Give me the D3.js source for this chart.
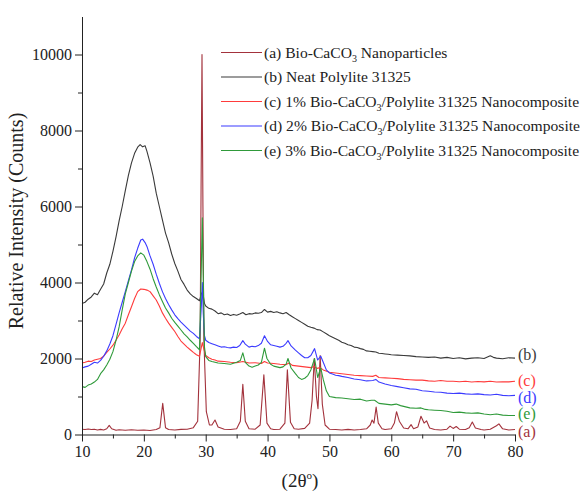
<!DOCTYPE html>
<html>
<head>
<meta charset="utf-8">
<script src="https://cdn.jsdelivr.net/npm/d3@7"></script>
<style>
body { margin: 0; background: #fff; }
svg text { font-family: "Liberation Serif", "Times New Roman", serif !important; }
</style>
</head>
<body>
<svg id="chart" width="587" height="492"></svg>
<script>
// XRD patterns, [2theta, counts]
const bioCaCO3 = [
  [10,140],[10.5,130],[11,145],[11.5,130],[12,140],[12.5,120],[13,135],[13.5,120],[14,150],[14.4,240],[14.8,150],
  [15.5,110],[16,125],[17,110],[18,125],[19,110],[20,120],[21,105],[22,130],[22.6,180],[23.05,820],[23.5,180],
  [24,130],[25,120],[26,135],[27,140],[28,180],[28.7,350],[29.1,2500],[29.25,6500],[29.4,10000],[29.55,6000],
  [29.7,2500],[30.1,600],[30.6,250],[31,250],[31.5,380],[32,200],[33,140],[34,130],[35,150],[35.6,350],
  [36.0,1320],[36.4,350],[37,150],[38,140],[38.8,250],[39.4,1570],[39.9,300],[40.5,150],[41,130],[42,140],
  [42.8,300],[43.2,1700],[43.7,320],[44.3,150],[45,140],[46,160],[46.8,300],[47.2,900],[47.55,2000],[47.9,1000],
  [48.15,680],[48.5,2080],[48.85,800],[49.3,250],[50,140],[51,130],[52,120],[53,135],[54,120],[55,130],[56,150],
  [56.6,250],[56.9,380],[57.2,300],[57.55,720],[57.9,300],[58.5,150],[59,130],[60,150],[60.5,300],[60.85,600],
  [61.3,350],[62,170],[62.7,150],[63.2,260],[63.6,150],[64.3,200],[64.8,480],[65.3,300],[65.7,360],[66.2,170],
  [67,130],[68,120],[69,140],[69.5,220],[70,160],[70.5,210],[71,140],[72,130],[72.6,180],[73.1,330],[73.6,170],
  [74.5,130],[75,120],[76,140],[77,230],[77.4,280],[78,150],[79,120],[80,130]
];

const neatPolylite = [
  [10,3450],[10.5,3480],[11,3560],[11.5,3620],[12,3720],[12.5,3680],[13,3820],[13.5,3960],[14,4250],[14.5,4480],
  [15,4820],[15.5,5200],[16,5620],[16.5,6000],[17,6420],[17.5,6820],[18,7150],[18.5,7400],[19,7560],[19.4,7630],
  [19.8,7570],[20.2,7600],[20.5,7450],[21,7150],[21.5,6800],[22,6350],[22.5,6000],[23,5650],[23.5,5300],[24,5050],
  [24.5,4750],[25,4500],[25.5,4300],[26,4080],[26.5,3950],[27,3800],[27.5,3700],[28,3630],[28.5,3580],[29,3520],
  [29.3,3700],[29.5,3760],[29.8,3450],[30,3380],[30.5,3320],[31,3300],[31.5,3250],[32,3180],[32.5,3200],[33,3150],
  [33.5,3170],[34,3130],[34.5,3160],[35,3140],[35.5,3170],[36,3210],[36.5,3150],[37,3180],[37.5,3170],[38,3200],
  [38.5,3190],[39,3210],[39.5,3290],[40,3220],[40.5,3240],[41,3210],[41.5,3230],[42,3200],[42.5,3180],[43,3210],
  [43.5,3150],[44,3100],[44.5,3050],[45,3000],[45.5,2950],[46,2900],[46.5,2850],[47,2820],[47.5,2800],[48,2760],
  [48.5,2750],[49,2700],[49.5,2650],[50,2600],[50.5,2560],[51,2520],[51.5,2480],[52,2430],[52.5,2400],[53,2360],
  [53.5,2340],[54,2300],[54.5,2290],[55,2260],[55.5,2240],[56,2200],[56.5,2190],[57,2180],[57.5,2170],[58,2140],
  [58.5,2130],[59,2120],[59.5,2110],[60,2100],[61,2090],[62,2080],[63,2070],[64,2050],[65,2040],[66,2030],
  [67,2040],[68,2010],[69,2030],[70,2000],[71,2020],[72,1990],[73,2010],[74,2020],[75,2000],[76,2070],[76.5,2030],
  [77,2010],[78,1995],[79,2020],[80,2010]
];

const nano1 = [
  [10,1880],[10.5,1900],[11,1930],[11.5,1920],[12,1960],[12.5,1980],[13,2000],[13.5,2060],[14,2160],[14.5,2250],
  [15,2350],[15.5,2480],[16,2620],[16.5,2780],[17,2930],[17.5,3150],[18,3360],[18.5,3580],[19,3760],[19.5,3830],
  [20,3820],[20.5,3800],[21,3760],[21.5,3650],[22,3540],[22.5,3380],[23,3200],[23.5,3060],[24,2930],[24.5,2820],
  [25,2710],[25.5,2580],[26,2460],[26.5,2380],[27,2300],[27.5,2230],[28,2160],[28.5,2100],[29,2060],[29.3,2300],
  [29.45,2420],[29.7,2250],[30,2080],[30.5,2020],[31,1980],[31.5,1960],[32,1930],[33,1920],[34,1900],[35,1890],
  [36,1920],[37,1880],[38,1890],[39,1870],[39.5,1920],[40,1880],[41,1870],[42,1850],[43,1840],[43.5,1880],
  [44,1820],[45,1800],[46,1780],[47,1760],[47.5,1790],[48,1740],[48.5,1760],[49,1700],[50,1640],[51,1620],
  [52,1600],[53,1580],[54,1560],[55,1550],[56,1540],[57,1530],[57.5,1560],[58,1500],[59,1490],[60,1480],
  [61,1470],[62,1450],[63,1440],[64,1430],[65,1430],[66,1410],[67,1400],[68,1420],[69,1400],[70,1400],
  [71,1390],[72,1400],[73,1380],[74,1395],[75,1385],[76,1400],[77,1380],[78,1390],[79,1385],[80,1400]
];

const nano2 = [
  [10,1750],[10.5,1780],[11,1800],[11.5,1850],[12,1900],[12.5,1880],[13,1950],[13.5,2060],[14,2200],[14.5,2380],
  [15,2600],[15.5,2900],[16,3200],[16.5,3480],[17,3760],[17.5,4050],[18,4330],[18.5,4650],[19,4900],[19.5,5120],
  [19.8,5140],[20.2,5050],[20.5,4950],[21,4700],[21.5,4480],[22,4220],[22.5,3980],[23,3760],[23.5,3580],[24,3420],
  [24.5,3280],[25,3150],[25.5,3050],[26,2960],[26.5,2880],[27,2800],[27.5,2720],[28,2660],[28.5,2580],[29,2520],
  [29.3,3400],[29.45,4000],[29.6,3200],[29.8,2600],[30,2480],[30.5,2420],[31,2390],[31.5,2360],[32,2330],
  [32.5,2300],[33,2310],[33.5,2290],[34,2280],[34.5,2300],[35,2290],[35.5,2340],[36,2470],[36.4,2380],[37,2300],
  [37.5,2320],[38,2310],[38.5,2340],[39,2400],[39.5,2600],[40,2450],[40.5,2360],[41,2340],[41.5,2320],[42,2300],
  [42.5,2320],[43,2400],[43.3,2470],[43.8,2330],[44.5,2220],[45,2150],[45.5,2080],[46,2020],[46.5,2020],[47,2080],
  [47.6,2260],[48.1,1960],[48.6,2060],[49,1900],[49.5,1700],[50,1620],[50.5,1590],[51,1560],[51.5,1550],[52,1530],
  [53,1500],[54,1460],[55,1440],[56,1410],[57,1420],[57.5,1450],[58,1380],[59,1330],[60,1290],[61,1260],
  [62,1230],[63,1200],[64,1190],[65,1150],[66,1140],[67,1120],[68,1110],[69,1090],[70,1080],[71,1090],
  [72,1070],[73,1060],[74,1070],[75,1050],[76,1040],[77,1060],[78,1030],[79,1020],[80,1030]
];

const nano3 = [
  [10,1260],[10.5,1240],[11,1300],[11.5,1330],[12,1380],[12.5,1450],[13,1600],[13.5,1700],[14,1830],[14.5,1980],
  [15,2180],[15.5,2480],[16,2830],[16.5,3280],[17,3700],[17.5,4000],[18,4300],[18.5,4550],[19,4700],[19.5,4780],
  [20,4720],[20.5,4550],[21,4350],[21.5,4100],[22,3880],[22.5,3680],[23,3500],[23.5,3330],[24,3200],[24.5,3060],
  [25,2950],[25.5,2850],[26,2750],[26.5,2650],[27,2570],[27.5,2480],[28,2400],[28.5,2310],[29,2230],[29.3,4500],
  [29.45,5700],[29.6,4200],[29.8,2300],[30,2050],[30.5,1950],[31,1920],[31.5,1900],[32,1880],[33,1870],[34,1850],
  [35,1900],[35.6,1950],[36,2150],[36.4,1900],[37,1800],[37.5,1770],[38,1800],[38.5,1830],[39,1900],[39.5,2270],
  [39.9,2000],[40.5,1850],[41,1800],[42,1760],[42.5,1780],[43,1850],[43.3,2000],[43.8,1750],[44.5,1600],[45,1500],
  [45.5,1450],[46,1480],[46.5,1550],[47,1700],[47.6,2000],[48.1,1500],[48.6,1750],[49,1450],[49.5,1150],[50,1000],
  [51,970],[52,960],[53,940],[54,920],[55,930],[56,880],[56.8,900],[57.3,900],[58,820],[59,800],[60,780],
  [60.8,800],[61.5,760],[62,740],[63,700],[64,690],[64.8,700],[65.5,660],[66,650],[67,640],[68,630],[69,610],
  [70,580],[71,590],[72,570],[73,560],[74,570],[75,540],[76,520],[77,540],[78,510],[79,500],[80,500]
];

const seriesData = [bioCaCO3, neatPolylite, nano1, nano2, nano3];
const seriesColors = ["#a3323c", "#3a3a3a", "#ff3b3b", "#3b3bff", "#2f9a3a"];
const legendLabels = [
  "(a) Bio-CaCO3 Nanoparticles",
  "(b) Neat Polylite 31325",
  "(c) 1% Bio-CaCO3/Polylite 31325 Nanocomposite",
  "(d) 2% Bio-CaCO3/Polylite 31325 Nanocomposite",
  "(e) 3% Bio-CaCO3/Polylite 31325 Nanocomposite"
];
const endLabels = ["(a)", "(b)", "(c)", "(d)", "(e)"];
const endLabelY = [432, 355, 381, 398, 414];
const xTicks = [10, 20, 30, 40, 50, 60, 70, 80];
const yTicks = [0, 2000, 4000, 6000, 8000, 10000];

const svg = d3.select("#chart");

const x = d3.scaleLinear().domain([10, 80]).range([82, 515]);
const y = d3.scaleLinear().domain([0, 11000]).range([434.5, 16.5]);

const line = d3.line().x(d => x(d[0])).y(d => y(d[1]));

// curves
svg.append("g").selectAll("path")
  .data(seriesData)
  .enter().append("path")
  .attr("d", line)
  .attr("fill", "none")
  .attr("stroke", (d, i) => seriesColors[i])
  .attr("stroke-width", 1.1)
  .attr("stroke-linejoin", "round");

// axes
svg.append("g")
  .attr("transform", `translate(0,${y(0)})`)
  .call(d3.axisBottom(x).tickValues(xTicks).tickSize(7).tickSizeOuter(0).tickPadding(4));
svg.append("g")
  .attr("transform", `translate(0,${y(0)})`)
  .call(d3.axisBottom(x).tickValues([15, 25, 35, 45, 55, 65, 75]).tickSize(4).tickFormat(""))
  .select(".domain").remove();

svg.append("g")
  .attr("transform", `translate(${x(10)},0)`)
  .call(d3.axisLeft(y).tickValues(yTicks).tickFormat(d3.format("d")).tickSize(7).tickSizeOuter(0).tickPadding(3));
svg.append("g")
  .attr("transform", `translate(${x(10)},0)`)
  .call(d3.axisLeft(y).tickValues([1000, 3000, 5000, 7000, 9000]).tickSize(4).tickFormat(""))
  .select(".domain").remove();

svg.selectAll(".tick line, .domain").attr("stroke", "#222").attr("stroke-width", 1);
svg.selectAll(".tick text")
  .attr("font-size", 16)
  .attr("fill", "#222");

// axis titles
svg.append("text")
  .attr("transform", "translate(23,221) rotate(-90)")
  .attr("text-anchor", "middle")
  .attr("font-size", 20)
  .attr("fill", "#222")
  .text("Relative Intensity (Counts)");

const xTitle = svg.append("text")
  .attr("x", 300)
  .attr("y", 487)
  .attr("text-anchor", "middle")
  .attr("font-size", 19)
  .attr("fill", "#222");
xTitle.append("tspan").text("(2θ");
xTitle.append("tspan").attr("font-size", 11).attr("dy", -8).text("o");
xTitle.append("tspan").attr("dy", 8).text(")");

// legend
const legend = svg.append("g");
legendLabels.forEach((label, i) => {
  const ly = 52.5 + i * 24.5;
  legend.append("line")
    .attr("x1", 221).attr("x2", 262)
    .attr("y1", ly).attr("y2", ly)
    .attr("stroke", seriesColors[i])
    .attr("stroke-width", 1.2);
  const t = legend.append("text")
    .attr("x", 264)
    .attr("y", ly + 5)
    .attr("font-size", 15.6)
    .attr("fill", "#222");
  const parts = label.split("CaCO3");
  parts.forEach((p, j) => {
    if (j > 0) {
      t.append("tspan").text("CaCO");
      t.append("tspan").attr("font-size", 10).attr("dy", 4).text("3");
      t.append("tspan").attr("dy", -4).text(p);
    } else {
      t.append("tspan").text(p);
    }
  });
});

// labels at the right end of each curve
svg.append("g").selectAll("text")
  .data(endLabels)
  .enter().append("text")
  .attr("x", 518)
  .attr("y", (d, i) => endLabelY[i] + 5)
  .attr("font-size", 16)
  .attr("fill", (d, i) => seriesColors[i])
  .text(d => d);
</script>
</body>
</html>
